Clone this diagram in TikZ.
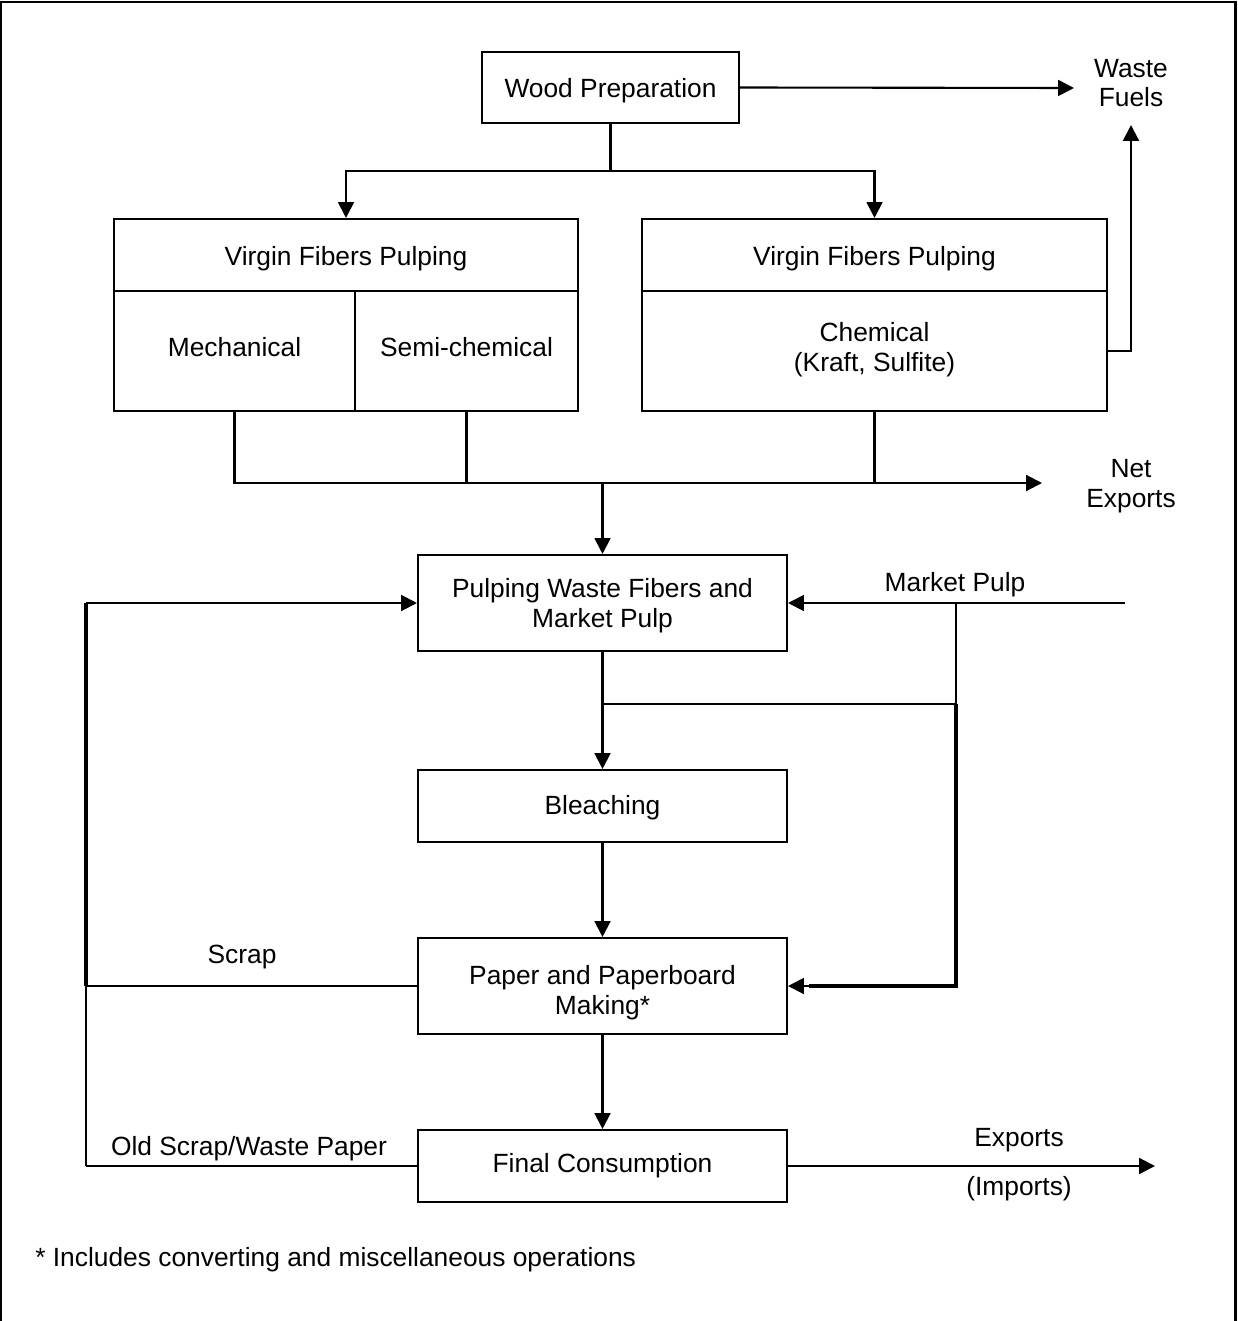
\documentclass[tikz,border=0pt]{standalone}
\usepackage{fontspec}
\setmainfont{Liberation Sans}
\usetikzlibrary{arrows.meta}
\begin{document}
\begin{tikzpicture}[x=0.02cm,y=-0.02cm,
  every node/.style={font=\fontsize{15}{17}\selectfont},
  box/.style={draw,line width=1.2pt,inner sep=0pt},
  lbl/.style={inner sep=0pt,align=center},
  conn/.style={line width=1.2pt},
  arr/.style={conn,-{Triangle[length=9pt,width=9pt]}},
  thickline/.style={line width=1.8pt},
  thinline/.style={line width=0.8pt}]
\useasboundingbox (0,0) rectangle (1237,1321);
% frame
\draw[line width=1.2pt] (1,1321) -- (1,2) -- (1235.5,2) -- (1235.5,1321);
% boxes
\node[box,minimum width=5.14cm,minimum height=1.42cm] (wp) at (610.5,87.5) {};
\node[box,minimum width=9.28cm,minimum height=1.44cm] (vlt) at (346,255) {};
\node[box,minimum width=4.82cm,minimum height=2.4cm] (mech) at (234.5,351) {};
\node[box,minimum width=4.46cm,minimum height=2.4cm] (semi) at (466.5,351) {};
\node[box,minimum width=9.3cm,minimum height=1.44cm] (vrt) at (874.5,255) {};
\node[box,minimum width=9.3cm,minimum height=2.4cm] (chem) at (874.5,351) {};
\node[box,minimum width=7.38cm,minimum height=1.92cm] (pulp) at (602.5,603) {};
\node[box,minimum width=7.38cm,minimum height=1.44cm] (bleach) at (602.5,806) {};
\node[box,minimum width=7.38cm,minimum height=1.92cm] (paper) at (602.5,986) {};
\node[box,minimum width=7.38cm,minimum height=1.44cm] (final) at (602.5,1166) {};
% box texts
\node[lbl] (wpt) at (610.5,90.5) {Wood Preparation};
\node[lbl] (vltt) at (346,259) {Virgin Fibers Pulping};
\node[lbl] (mecht) at (234.5,347) {Mechanical};
\node[lbl] (semit) at (466.5,347) {Semi-chemical};
\node[lbl] (vrtt) at (874.5,259) {Virgin Fibers Pulping};
\node[lbl] (chemt) at (874.5,350) {Chemical\\(Kraft, Sulfite)};
\node[lbl] (pulpt) at (602.5,606) {Pulping Waste Fibers and\\Market Pulp};
\node[lbl] (bleacht) at (602.5,808) {Bleaching};
\node[lbl] (papert) at (602.5,993) {Paper and Paperboard\\Making*};
\node[lbl] (finalt) at (602.5,1166) {Final Consumption};
% labels
\node[lbl] (wf) at (1131,83) {Waste\\Fuels};
\node[lbl] (ne) at (1131,486) {Net\\Exports};
\node[lbl] (mp) at (955,585) {Market Pulp};
\node[lbl] (scrap) at (242,957) {Scrap};
\node[lbl] (old) at (249,1149) {Old Scrap/Waste Paper};
\node[lbl] (exp) at (1019,1140) {Exports};
\node[lbl] (imp) at (1019,1189) {(Imports)};
\node[lbl,anchor=west] (foot) at (35,1260) {* Includes converting and miscellaneous operations};
% coordinates
\coordinate (wfend) at (1074,88);
\coordinate (wpj) at (610.5,171);
\coordinate (wfup) at (1131,125);
\coordinate (neend) at (1042,483);
\coordinate (lt) at (86,603);
\coordinate (ls) at (86,986);
\coordinate (lb) at (86,1166);
\coordinate (mpstart) at (1125,603);
\coordinate (mpj) at (956,603);
\coordinate (mpk) at (956,704);
\coordinate (expend) at (1155,1166);
% connectors
\draw[arr] (wp.east) -- (wfend);
\draw[conn] (wp.south) -- (wpj);
\draw[arr] (wpj) -| (vlt.north);
\draw[arr] (wpj) -| (vrt.north);
\draw[arr] (chem.east) -| (wfup);
\draw[arr] (mech.south) |- (neend);
\draw[conn] (semi.south) -- (semi.south |- neend);
\draw[conn] (chem.south) -- (chem.south |- neend);
\draw[arr] (pulp.north |- neend) -- (pulp.north);
\draw[thickline] (ls) -- (lt);
\draw[arr] (lt) -- (pulp.west);
\draw[conn] (paper.west) -- (ls);
\draw[thinline] (ls) -- (lb);
\draw[conn] (lb) -- (final.west);
\draw[arr] (mpstart) -- (pulp.east);
\draw[thinline] (mpj) -- (mpk);
\draw[conn] (pulp.south |- mpk) -- (mpk);
\draw[thickline] (mpk) |- ([xshift=12pt]paper.east);
\draw[arr] ([xshift=12pt]paper.east) -- (paper.east);
\draw[arr] (pulp.south) -- (bleach.north);
\draw[arr] (bleach.south) -- (paper.north);
\draw[arr] (paper.south) -- (final.north);
\draw[arr] (final.east) -- (expend);
\end{tikzpicture}
\end{document}
